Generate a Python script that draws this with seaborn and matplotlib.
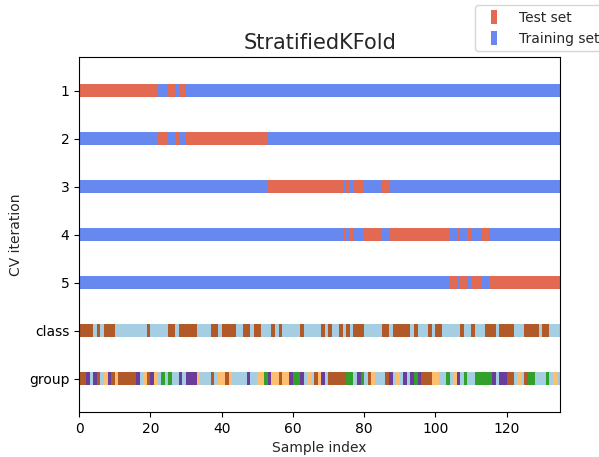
import numpy as np
import matplotlib
matplotlib.use("Agg")
import matplotlib.pyplot as plt
import seaborn as sns
from matplotlib.lines import Line2D

sns.set_style("ticks")
plt.rcParams['font.family'] = ['DejaVu Sans']

n_samples = 135
n_splits = 5

# class of each sample (0 / 1)
class_labels = [
    1, 1, 1, 1, 0, 1, 0, 1, 1, 1,
    0, 0, 0, 0, 0, 0, 0, 0, 0, 1,
    0, 0, 0, 0, 0, 1, 1, 0, 1, 1,
    1, 1, 1, 0, 0, 0, 0, 1, 1, 0,
    1, 1, 1, 1, 0, 0, 1, 1, 0, 1,
    1, 0, 0, 0, 1, 0, 1, 0, 0, 0,
    0, 0, 1, 0, 0, 0, 0, 0, 1, 0,
    1, 0, 0, 1, 0, 1, 0, 1, 1, 1,
    0, 0, 0, 0, 0, 1, 1, 0, 1, 1,
    1, 1, 1, 0, 1, 0, 0, 0, 1, 0,
    1, 1, 0, 0, 0, 0, 0, 1, 0, 0,
    1, 0, 0, 0, 1, 1, 1, 0, 1, 1,
    1, 1, 0, 0, 0, 1, 1, 1, 1, 0,
    1, 1, 0, 0, 0,
]

# group of each sample (0..4)
group_labels = [
    4, 4, 3, 0, 3, 4, 0, 2, 3, 4,
    2, 4, 4, 4, 4, 4, 3, 0, 2, 4,
    3, 2, 0, 1, 0, 1, 0, 0, 3, 0,
    3, 3, 3, 2, 0, 0, 0, 4, 0, 2,
    2, 4, 2, 0, 0, 0, 0, 3, 0, 0,
    2, 2, 1, 3, 2, 2, 4, 2, 2, 3,
    1, 1, 3, 0, 2, 0, 4, 2, 3, 0,
    4, 4, 4, 4, 4, 1, 1, 0, 3, 1,
    0, 4, 2, 0, 0, 0, 4, 3, 0, 2,
    0, 3, 0, 3, 1, 3, 4, 4, 4, 2,
    2, 0, 0, 1, 0, 2, 3, 0, 1, 0,
    0, 1, 1, 1, 1, 1, 3, 0, 3, 3,
    4, 4, 0, 2, 0, 4, 1, 1, 0, 0,
    0, 1, 0, 2, 0,
]

# CV iteration (0..4) in which each sample is in the test set
test_fold = [
    0, 0, 0, 0, 0, 0, 0, 0, 0, 0,
    0, 0, 0, 0, 0, 0, 0, 0, 0, 0,
    0, 0, 1, 1, 1, 0, 0, 1, 0, 0,
    1, 1, 1, 1, 1, 1, 1, 1, 1, 1,
    1, 1, 1, 1, 1, 1, 1, 1, 1, 1,
    1, 1, 1, 2, 2, 2, 2, 2, 2, 2,
    2, 2, 2, 2, 2, 2, 2, 2, 2, 2,
    2, 2, 2, 2, 3, 2, 3, 2, 2, 2,
    3, 3, 3, 3, 3, 2, 2, 3, 3, 3,
    3, 3, 3, 3, 3, 3, 3, 3, 3, 3,
    3, 3, 3, 3, 4, 4, 3, 4, 4, 3,
    4, 4, 4, 3, 3, 4, 4, 4, 4, 4,
    4, 4, 4, 4, 4, 4, 4, 4, 4, 4,
    4, 4, 4, 4, 4,
]

row_labels = [str(i + 1) for i in range(n_splits)] + ["class", "group"]

paired = sns.color_palette("Paired", 12)
cmap_cv = sns.color_palette("coolwarm", as_cmap=True)
class_colors = {0: paired[0], 1: paired[11]}
group_colors = {0: paired[0], 1: paired[3], 2: paired[6], 3: paired[9], 4: paired[11]}
train_color = cmap_cv(0.2 / 1.4)
test_color = cmap_cv(1.2 / 1.4)


def runs(values):
    # consecutive equal values -> (start, width, value)
    values = np.asarray(values)
    cuts = np.flatnonzero(np.diff(values)) + 1
    starts = np.r_[0, cuts]
    ends = np.r_[cuts, len(values)]
    return [(s, e - s, values[s]) for s, e in zip(starts, ends)]


def draw_row(ax, values, y, color_of, h=0.28):
    segs = runs(values)
    ax.broken_barh([(s, w) for s, w, _ in segs], (y - h / 2, h),
                   facecolors=[color_of(v) for _, _, v in segs], linewidth=0)


fig = plt.figure(figsize=(5.99, 4.57), dpi=100)
ax = fig.add_axes([0.132, 0.098, 0.803, 0.777])

for k in range(n_splits):
    is_test = [1 if f == k else 0 for f in test_fold]
    draw_row(ax, is_test, k + 0.5, lambda v: test_color if v else train_color)

draw_row(ax, class_labels, n_splits + 0.5, lambda v: class_colors[v])
draw_row(ax, group_labels, n_splits + 1.5, lambda v: group_colors[v])

ax.set(yticks=np.arange(n_splits + 2) + 0.5, yticklabels=row_labels,
       xlabel="Sample index", ylabel="CV iteration",
       ylim=[n_splits + 2.2, -0.2], xlim=[0, n_samples])
for sp in ax.spines.values():
    sp.set_color("black")
ax.tick_params(colors="black", labelsize=10)
ax.set_title("StratifiedKFold", fontsize=15)

# tall narrow rectangles as legend keys
rect = [(-0.45, -1), (0.45, -1), (0.45, 1), (-0.45, 1), (-0.45, -1)]
handles = [Line2D([], [], ls="none", marker=rect, markersize=10,
                  markerfacecolor=c, markeredgewidth=0)
           for c in (test_color, train_color)]
fig.legend(handles, ["Test set", "Training set"], loc="upper left",
           bbox_to_anchor=(0.781, 1.004), handlelength=2.0, handletextpad=0.8,
           fontsize=10)

fig.savefig("out.png", dpi=100)
